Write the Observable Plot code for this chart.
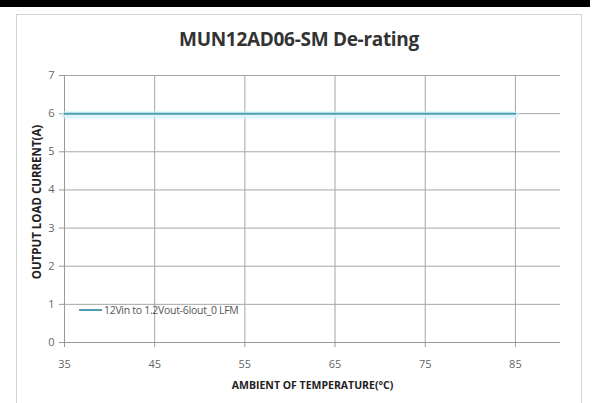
<!DOCTYPE html>
<html><head><meta charset="utf-8">
<script src="https://cdn.jsdelivr.net/npm/d3@7"></script>
<script src="https://cdn.jsdelivr.net/npm/@observablehq/plot@0.6"></script>
<style>
body{margin:0;background:#fff;}
#wrap{position:relative;width:598px;height:403px;overflow:hidden;font-family:"Open Sans",sans-serif;}
#bar{position:absolute;left:0;top:0;width:590px;height:7px;background:#000;}
#frame{position:absolute;left:16px;top:14px;width:564px;height:400px;border:1px solid #d4d4d4;}
#title{position:absolute;left:0;width:598px;top:26px;text-align:center;font-size:19px;font-weight:700;color:#333;letter-spacing:-0.3px;}
#legend{position:absolute;left:79px;top:303px;font-size:10.5px;color:#555;display:flex;align-items:center;letter-spacing:-0.3px;}
#legend span.sw{display:inline-block;width:23px;height:2.5px;background:#4f9fb0;margin-right:2px;}
#chart{position:absolute;left:0;top:0;}
</style></head>
<body>
<div id="wrap">
  <div id="bar"></div>
  <div id="frame"></div>
  <div id="title"></div>
  <div id="chart"></div>
  <div id="legend"><span class="sw"></span><span id="legtext"></span></div>
</div>
<script>
const titleText = "MUN12AD06-SM De-rating";
const seriesName = "12Vin to 1.2Vout-6Iout_0 LFM";
const temps = [35, 45, 55, 65, 75, 85];
const current = [6, 6, 6, 6, 6, 6];
const xTicks = [35, 45, 55, 65, 75, 85];
const yTicks = [0, 1, 2, 3, 4, 5, 6, 7];
const xLabel = "AMBIENT OF TEMPERATURE(°C)";
const yLabel = "OUTPUT LOAD CURRENT(A)";

document.getElementById("title").textContent = titleText;
document.getElementById("legtext").textContent = seriesName;

const data = temps.map((t, i) => ({t, c: current[i]}));

const chart = Plot.plot({
  width: 598, height: 403,
  marginLeft: 64, marginRight: 38, marginTop: 75, marginBottom: 61,
  style: {fontFamily: "Open Sans, sans-serif", fontSize: "11px", color: "#666", background: "transparent"},
  x: {domain: [35, 90], ticks: xTicks},
  y: {domain: [0, 7], ticks: yTicks},
  marks: [
    Plot.gridY(yTicks, {stroke: "#a6a6a6", strokeOpacity: 1, strokeWidth: 1}),
    Plot.gridX(xTicks, {stroke: "#a6a6a6", strokeOpacity: 1, strokeWidth: 1}),
    Plot.ruleX([35], {stroke: "#999"}),
    Plot.ruleY([0], {stroke: "#999"}),
    Plot.axisY(yTicks, {tickSize: 5, tickPadding: 5, label: null, stroke: "#999", fill: "#666", fontSize: 11}),
    Plot.axisX(xTicks, {tickSize: 5, tickPadding: 13, label: null, stroke: "#999", fill: "#666", fontSize: 11}),
    Plot.lineY(data, {x: "t", y: "c", stroke: "#d6f3f8", strokeWidth: 7, strokeOpacity: 0.8, dy: 1}),
    Plot.lineY(data, {x: "t", y: "c", stroke: "#4f9fb0", strokeWidth: 2}),
    Plot.text([xLabel], {frameAnchor: "bottom", dy: 46, fontSize: 10.5, fontWeight: 700, fill: "#222", letterSpacing: -0.2, text: d => d}),
    Plot.text([yLabel], {frameAnchor: "left", dx: -27, dy: -7, rotate: -90, textAnchor: "middle", fontSize: 11.5, fontWeight: 700, fill: "#222", text: d => d})
  ]
});
document.getElementById("chart").appendChild(chart);
</script>
</body></html>
